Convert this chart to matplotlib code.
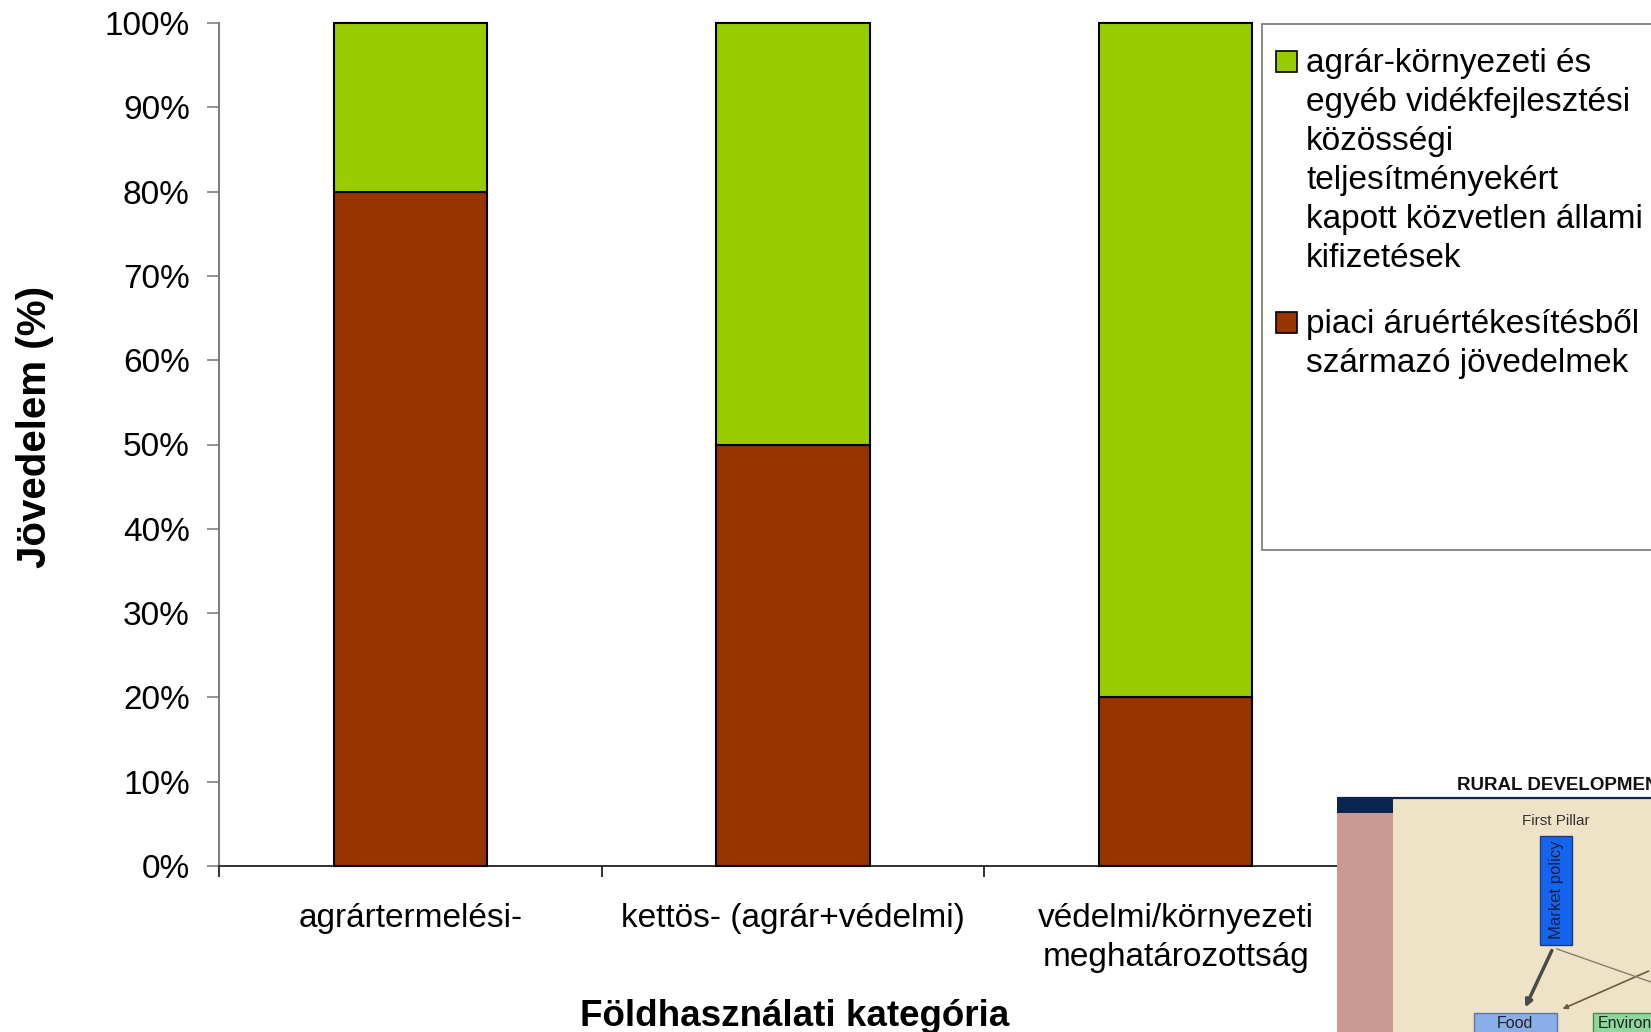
import matplotlib
matplotlib.use("Agg")
import matplotlib.pyplot as plt
from matplotlib.patches import Rectangle, FancyArrowPatch
from matplotlib.ticker import FixedLocator, FuncFormatter

plt.rcParams["font.family"] = ["Liberation Sans", "DejaVu Sans"]

# adatok: jövedelem-összetétel földhasználati kategóriánként (%)
categories = ["agrártermelési-", "kettös- (agrár+védelmi)",
              "védelmi/környezeti\nmeghatározottság"]
piaci = [80, 50, 20]
agrar_korny = [20, 50, 80]
yticks = list(range(0, 101, 10))

label_agrar = ("agrár-környezeti és\negyéb vidékfejlesztési\nközösségi\n"
               "teljesítményekért\nkapott közvetlen állami\nkifizetések")
label_piaci = "piaci áruértékesítésből\nszármazó jövedelmek"

GREEN = "#99CC00"
BROWN = "#993300"
FS = 24

W, H = 1651, 1032
fig = plt.figure(figsize=(W / 100, H / 100), dpi=100)


def fx(px):
    return px / W


def fy(py):
    return 1 - py / H


ax = fig.add_axes([fx(219), fy(866), 1148 / W, 843 / H])

x = list(range(len(categories)))
ax.bar(x, piaci, width=0.4, color=BROWN, edgecolor="black", linewidth=1.5,
       clip_on=False, zorder=3)
ax.bar(x, agrar_korny, width=0.4, bottom=piaci, color=GREEN,
       edgecolor="black", linewidth=1.5, clip_on=False, zorder=3)

ax.set_xlim(-0.5, len(categories) - 0.5)
ax.set_ylim(0, 100)

for s in ("top", "right"):
    ax.spines[s].set_visible(False)
ax.spines["left"].set_color("#808080")
ax.spines["left"].set_linewidth(1.5)
ax.spines["bottom"].set_color("#222222")
ax.spines["bottom"].set_linewidth(1.3)

ax.set_yticks(yticks)
ax.yaxis.set_major_formatter(FuncFormatter(lambda v, _: f"{v:.0f}%"))
ax.tick_params(axis="y", length=9, width=1.2, color="#808080", pad=12,
               labelsize=FS)

# kategóriahatárokon jelölők, a feliratok a kategóriák közepén
ax.xaxis.set_major_locator(FixedLocator([i - 0.5 for i in range(len(categories) + 1)]))
ax.xaxis.set_minor_locator(FixedLocator(x))
ax.set_xticklabels([], minor=False)
ax.set_xticklabels(categories, minor=True, linespacing=1.3)
ax.tick_params(axis="x", which="major", length=8, width=1.3, color="#222222")
ax.tick_params(axis="x", which="minor", length=0, pad=27, labelsize=FS)

fig.text(fx(795), fy(1016), "Földhasználati kategória", fontsize=26.5,
         fontweight="bold", ha="center", va="center")
fig.text(fx(35), fy(427), "Jövedelem (%)", fontsize=29, fontweight="bold",
         rotation=90, ha="center", va="center")

# jelmagyarázat keretben, a jobb szélen túlnyúlva
fig.patches.append(Rectangle((fx(1262), fy(550)), fx(1700) - fx(1262), fy(24) - fy(550),
                             transform=fig.transFigure, facecolor="white",
                             edgecolor="#808080", linewidth=1.3))
entries = [(label_agrar, GREEN, 72), (label_piaci, BROWN, 333)]
for text, color, base in entries:
    fig.patches.append(Rectangle((fx(1276), fy(base)), 21 / W, 21 / H,
                                 transform=fig.transFigure, facecolor=color,
                                 edgecolor="black", linewidth=1.2))
    for i, line in enumerate(text.split("\n")):
        fig.text(fx(1306), fy(base + i * 39), line, fontsize=FS,
                 ha="left", va="baseline")

# beillesztett ábra a jobb alsó sarokban
ins = fig.add_axes([fx(1337), 0, (W - 1337) / W, (H - 770) / H], zorder=5)
ins.set_xlim(1337, W)
ins.set_ylim(H, 770)
ins.axis("off")


def box(x0, y0, x1, y1, fc, ec="none", lw=0):
    ins.add_patch(Rectangle((x0, y0), x1 - x0, y1 - y0, facecolor=fc,
                            edgecolor=ec, linewidth=lw))


box(1337, 770, W, H, "white")
box(1393, 799, W, H, "#EEE3C6")
box(1337, 813, 1393, H, "#C99A92")
box(1337, 799, 1393, 813, "#0B2452")
ins.plot([1337, W], [798, 798], color="#0B2452", lw=1.6)

ins.text(1457, 790, "RURAL DEVELOPMENT", fontsize=13.5, fontweight="bold",
         ha="left", va="baseline", color="#111111")
ins.text(1556, 821, "First Pillar", fontsize=11, ha="center", va="center",
         color="#333333")

box(1540, 836, 1572, 945, "#1464F0", "#203a78", 1)
ins.text(1556, 890, "Market policy", fontsize=12, rotation=90,
         ha="center", va="center", color="#0E1E48")

ins.plot([1557, W], [949, 982], color="#8A7F6A", lw=1)
ins.add_patch(FancyArrowPatch((1553, 948), (1524, 1010), arrowstyle="-|>",
                              mutation_scale=10, color="#4A4A4A", lw=2.5))
ins.add_patch(FancyArrowPatch((W, 970), (1560, 1010), arrowstyle="-|>",
                              mutation_scale=7, color="#6B5A40", lw=1.2))

box(1474, 1013, 1557, 1045, "#8AAEE8", "#5577AA", 1)
ins.text(1515, 1023, "Food", fontsize=11.5, ha="center", va="center",
         color="#222222")
box(1593, 1013, 1670, 1045, "#8FD89C", "#4A8A50", 1)
ins.text(1598, 1023, "Environment", fontsize=11.5, ha="left", va="center",
         color="#222222", clip_on=True)

fig.savefig("out.png", dpi=100)
